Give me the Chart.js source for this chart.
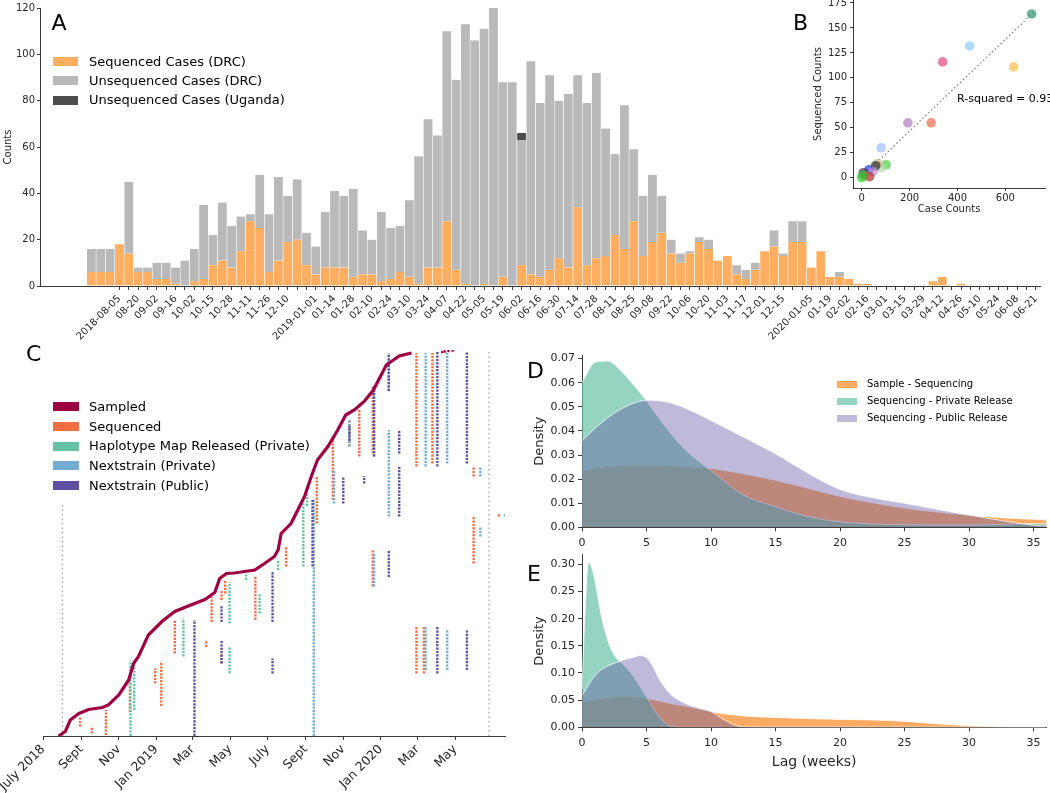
<!DOCTYPE html>
<html><head><meta charset="utf-8">
<script src="https://cdn.jsdelivr.net/npm/chart.js"></script>
<style>
html,body{margin:0;padding:0;background:#fff;}
body{width:1050px;height:793px;position:relative;overflow:hidden;font-family:"DejaVu Sans",sans-serif;color:#000;}
.cv{position:absolute;}
.t{position:absolute;white-space:nowrap;font-family:"DejaVu Sans",sans-serif;}
</style></head>
<body>
<canvas id="cA" class="cv" style="left:0;top:0" width="1050" height="345"></canvas>
<canvas id="cB" class="cv" style="left:800px;top:-10px" width="250" height="235"></canvas>
<canvas id="cC" class="cv" style="left:0;top:340px" width="540" height="453"></canvas>
<canvas id="cD" class="cv" style="left:520px;top:345px" width="530" height="215"></canvas>
<canvas id="cE" class="cv" style="left:520px;top:545px" width="530" height="248"></canvas>
<script>
// ================= DATA =================
// ---- Panel A: weekly cases (one category per epi-week) ----
const A_weeks = [
 '', '', '', '', '', '', '', '', '2018-08-05', '',
 '08-20', '', '09-02', '', '09-16', '', '10-02', '', '10-15', '',
 '10-28', '', '11-11', '', '11-26', '', '12-10', '', '', '2019-01-01',
 '', '01-14', '', '01-28', '', '02-10', '', '02-24', '', '03-10',
 '', '03-24', '', '04-07', '', '04-22', '', '05-05', '', '05-19',
 '', '06-02', '', '06-16', '', '06-30', '', '07-14', '', '07-28',
 '', '08-11', '', '08-25', '', '09-08', '', '09-22', '', '10-06',
 '', '10-20', '', '11-03', '', '11-17', '', '12-01', '', '12-15',
 '', '', '2020-01-05', '', '01-19', '', '02-02', '', '02-16', '',
 '03-01', '', '03-15', '', '03-29', '', '04-12', '', '04-26', '',
 '05-10', '', '05-24', '', '06-08', '', '06-21'];
const A_sequenced = [
 0,0,0,0,0,6,6,6,18,14,
 6,6,3,3,1,0,2,3,9,11,
 8,15,28,25,6,11,19,20,9,5,
 8,8,8,4,5,5,2,3,6,4,
 1,8,8,28,7,1,0,1,0,4,
 0,9,5,4,7,12,8,34,9,12,
 13,22,16,28,13,19,23,14,10,14,
 19,16,11,13,5,3,7,15,17,13,
 19,19,8,15,4,4,3,1,1,0,
 0,0,0,0,0,2,4,0,1,0,
 0,0,0,0,0,0,0];
const A_unsequencedDRC = [
 0,0,0,0,0,10,10,10,0,31,
 2,2,7,7,7,11,14,32,13,25,
 18,15,3,23,25,36,20,26,14,12,
 24,33,31,38,19,15,30,22,20,33,
 55,64,57,82,82,112,106,110,121,84,
 88,54,92,75,84,68,75,57,70,80,
 55,35,62,31,26,29,16,6,4,1,
 2,4,0,0,4,4,3,0,7,1,
 9,9,0,0,0,2,0,0,0,0,
 0,0,0,0,0,0,0,0,0,0,
 0,0,0,0,0,0,0];
const A_unsequencedUganda = A_weeks.map((_, i) => i === 51 ? 3 : 0);

// ---- Panel B: health zones ----
const B_caseCounts = [710, 451, 338, 635, 193, 290, 81, 102, 82, 65, 58, 30, 48, 33, 7, 15, 0, 5];
const B_sequencedCounts = [164, 132, 116, 111, 55, 55, 30, 13, 10, 14, 12, 8, 6, 1, 5, 2, 0, 3];
const B_zoneColors = ['#2f8f6f','#8ec9f5','#e0457f','#f5c04a','#a77dbb','#f2664a','#9dbaf5','#4ccc3c','#b5dba5',
  '#c9b08c','#2b2b2b','#1f3fdc','#c88fcf','#a0302d','#4b1f4f','#e25555','#22cc22','#3cb83c'];
const B_fitLine = [[0, 1], [720, 166]];
const B_xTicks = [0, 200, 400, 600];
const B_yTicks = [0, 25, 50, 75, 100, 125, 150, 175];
const B_rsquared = 'R-squared = 0.93';

// ---- Panel C: per-sample event timeline (date, sample rank) ----
const C_sampled = [
 ['2018-07-26',0],['2018-08-06',9],['2018-08-14',32],['2018-08-28',45],['2018-09-13',53],['2018-10-05',57],
 ['2018-10-15',62],['2018-11-01',82],['2018-11-17',112],['2018-11-25',145],['2018-12-03',159],['2018-12-19',202],
 ['2019-01-10',229],['2019-01-31',249],['2019-02-22',260],['2019-03-21',273],['2019-04-06',287],['2019-04-14',315],
 ['2019-04-25',325],['2019-05-08',326],['2019-06-10',332],['2019-06-26',345],['2019-07-12',359],['2019-07-18',372],
 ['2019-07-23',405],['2019-08-08',425],['2019-08-19',452],['2019-08-30',479],['2019-09-10',519],['2019-09-20',552],
 ['2019-10-07',579],['2019-10-23',612],['2019-11-05',642],['2019-11-19',652],['2019-12-05',669],['2019-12-20',692],
 ['2020-01-10',742],['2020-01-31',760],['2020-02-20',766]];
const C_sampledFlareUp = [['2020-04-10',768],['2020-04-14',769],['2020-04-20',770],['2020-04-27',771]];
// [date, lowest rank, highest rank] of each batch
const C_sequenced = [
 ['2018-08-30',19,39],['2018-09-18',5,19],['2018-10-11',2,52],['2018-11-19',48,109],['2018-12-30',105,135],
 ['2019-01-09',60,149],['2019-01-31',165,232],['2019-03-23',178,192],['2019-04-01',228,278],['2019-04-17',145,165],
 ['2019-04-17',272,292],['2019-04-23',285,312],['2019-06-11',232,318],['2019-07-31',339,379],['2019-09-19',425,519],
 ['2019-10-15',472,592],['2019-11-11',579,632],['2019-11-27',559,652],['2019-12-19',565,700],['2019-12-19',299,372],
 ['2020-02-28',539,766],['2020-02-28',125,218],['2020-03-11',125,218],['2020-03-25',545,766],['2020-05-31',519,539],
 ['2020-05-31',345,439],['2020-07-11',439,445]];
const C_haplotype = [
 ['2018-11-20',0,151],['2018-11-26',52,148],['2019-02-14',159,235],['2019-04-30',225,308],['2019-04-30',125,178],
 ['2019-05-27',312,325],['2019-06-18',245,285],['2019-07-18',332,352],['2019-08-28',339,465],['2019-09-03',460,485]];
const C_nextstrainPrivate = [
 ['2019-09-14',0,472],['2019-10-17',465,532],['2019-11-11',579,632],['2019-12-21',559,700],['2019-12-21',299,365],
 ['2020-01-14',439,612],['2020-01-14',690,760],['2020-03-14',539,766],['2020-03-14',132,218],['2020-04-18',545,766],
 ['2020-04-18',132,212],['2020-06-11',519,539],['2020-06-11',399,419],['2020-07-21',439,445]];
const C_nextstrainPublic = [
 ['2019-03-04',0,232],['2019-04-17',228,262],['2019-04-17',145,190],['2019-07-09',228,328],['2019-07-09',125,155],
 ['2019-09-12',339,472],['2019-11-01',465,519],['2019-11-11',590,620],['2019-12-05',505,520],['2019-12-21',559,700],
 ['2020-01-14',318,372],['2020-01-14',690,766],['2020-01-31',565,612],['2020-01-31',439,539],['2020-04-02',539,768],
 ['2020-04-02',125,218],['2020-05-20',545,768],['2020-05-20',132,212]];
const C_markerLines = [['2018-08-01',0,462],['2020-06-25',0,770]];
const C_tickDates = ['2018-07-01','2018-09-01','2018-11-01','2019-01-01','2019-03-01','2019-05-01',
  '2019-07-01','2019-09-01','2019-11-01','2020-01-01','2020-03-01','2020-05-01'];
const C_tickLabels = ['July 2018','Sept','Nov','Jan 2019','Mar','May','July','Sept','Nov','Jan 2020','Mar','May'];

// ---- Panel D / E: lag densities (weeks) ----
const D_lag = [0,1,2,3,4,5,6,7.5,9,10,12.5,15,17.5,20,22.5,25,27.5,30,32.5,35,36];
const D_sampleSeq  = [0.0233,0.0245,0.0252,0.0256,0.0258,0.0258,0.0257,0.0254,0.0249,0.0244,0.0222,0.0195,0.0162,0.0128,0.0102,0.0080,0.0063,0.0050,0.0040,0.0033,0.0031];
const D_seqPrivate = [0.0600,0.0685,0.0690,0.0650,0.0590,0.0525,0.0450,0.0350,0.0275,0.0235,0.0135,0.0085,0.0045,0.0023,0.0014,0.0011,0.0010,0.0010,0.0012,0.0015,0.0015];
const D_seqPublic  = [0.0360,0.0410,0.0455,0.0490,0.0515,0.0527,0.0525,0.0505,0.0470,0.0443,0.0375,0.0305,0.0225,0.0157,0.0123,0.0100,0.0075,0.0051,0.0028,0.0009,0.0006];
const E_lag = [0,0.25,0.5,0.75,1,1.5,2,2.5,3,3.5,4,4.5,5,5.5,6,6.5,7,8,9,10,11,12,13,15,17.5,20,22.5,25,27.5,30,32,34,36];
const E_sampleSeq  = [0.047,0.048,0.049,0.050,0.051,0.053,0.055,0.056,0.0565,0.0565,0.056,0.055,0.053,0.051,0.048,0.046,0.043,0.039,0.034,0.029,0.025,0.022,0.020,0.018,0.016,0.0145,0.0135,0.011,0.0065,0.003,0.0012,0.0003,0];
const E_seqPrivate = [0.070,0.220,0.303,0.295,0.270,0.205,0.160,0.133,0.120,0.108,0.093,0.075,0.056,0.036,0.019,0.007,0.001,0,0,0,0,0,0,0,0,0,0,0,0,0,0,0,0];
const E_seqPublic  = [0.059,0.068,0.078,0.087,0.095,0.106,0.113,0.118,0.122,0.126,0.129,0.132,0.128,0.112,0.088,0.071,0.058,0.044,0.036,0.029,0.014,0.003,0.0005,0,0,0,0,0,0,0,0,0,0];
const DE_labels = ['Sample - Sequencing','Sequencing - Private Release','Sequencing - Public Release'];

// ================= HELPERS =================
Chart.defaults.font.family = '"DejaVu Sans", sans-serif';
Chart.defaults.color = '#262626';
Chart.defaults.animation = false;
Chart.defaults.plugins.legend.display = false;
Chart.defaults.plugins.tooltip.enabled = false;
const AX = '#3a3a3a';
const fixW = w => s => { s.width = w; };
const fixH = h => s => { s.height = h; };
const setTicks = vals => s => { s.ticks = vals.map(v => ({ value: v })); };
const day0 = Date.UTC(2018, 6, 1);
const days = s => (Date.UTC(+s.slice(0,4), +s.slice(5,7)-1, +s.slice(8,10)) - day0) / 864e5;
const segs = list => list.flatMap(([d,a,b]) => [{x:days(d),y:a},{x:days(d),y:b},{x:days(d),y:null}]);
const pts = (xs, ys) => xs.map((x,i) => ({x, y: ys[i]}));

function text(str, left, top, size, extra) {
  const d = document.createElement('div');
  d.className = 't';
  d.textContent = str;
  d.style.cssText += `left:${left}px;top:${top}px;font-size:${size}px;line-height:${size}px;` + (extra||'');
  document.body.appendChild(d);
  return d;
}
function legend(items, patchLeft, firstCy, rowH, pw, ph, textLeft, fs) {
  items.forEach((it, i) => {
    const cy = firstCy + i * rowH;
    const p = document.createElement('div');
    p.style.cssText = `position:absolute;left:${patchLeft}px;top:${cy-ph/2}px;width:${pw}px;height:${ph}px;background:${it.color};`;
    document.body.appendChild(p);
    text(it.label, textLeft, cy - fs*0.52, fs);
  });
}

// ================= PANEL A =================
const chartA = new Chart(document.getElementById('cA'), {
  type: 'bar',
  data: { labels: A_weeks, datasets: [
    { label: 'Sequenced Cases (DRC)', data: A_sequenced, backgroundColor: '#fdae61' },
    { label: 'Unsequenced Cases (DRC)', data: A_unsequencedDRC, backgroundColor: '#b9b9b9' },
    { label: 'Unsequenced Cases (Uganda)', data: A_unsequencedUganda, backgroundColor: '#4d4d4d' }
  ]},
  options: {
    responsive: false,
    layout: { padding: { left: 0, right: 9.5, top: 4, bottom: 0 } },
    datasets: { bar: { categoryPercentage: 1, barPercentage: 1, borderColor: '#ffffff',
      borderWidth: { left: 0.6, right: 0.6, top: 0, bottom: 0 }, borderSkipped: false } },
    scales: {
      x: { stacked: true, afterFit: fixH(59),
        grid: { offset: false, drawOnChartArea: false, tickLength: 4,
                tickColor: ctx => (ctx.index >= 8 ? AX : 'rgba(0,0,0,0)') },
        border: { color: AX },
        ticks: { autoSkip: false, maxRotation: 45, minRotation: 45, font: { size: 10 }, padding: 3 } },
      y: { stacked: true, min: 0, max: 120, afterFit: fixW(40),
        ticks: { stepSize: 20, font: { size: 10 }, padding: 2 },
        grid: { drawOnChartArea: false, tickLength: 3, color: AX },
        border: { color: AX },
        title: { display: true, text: 'Counts', font: { size: 10 }, padding: { top: 2, bottom: 0 } } }
    }
  }
});
legend(chartA.data.datasets.map(d => ({label: d.label, color: d.backgroundColor})), 53, 61.7, 19.2, 25, 9, 89, 13);

// ================= PANEL B =================
new Chart(document.getElementById('cB'), {
  type: 'scatter',
  data: { datasets: [
    { data: pts(B_caseCounts, B_sequencedCounts), backgroundColor: B_zoneColors.map(c => c + 'b0'),
      borderWidth: 0, pointRadius: 4.8, order: 1 },
    { data: B_fitLine.map(([x,y]) => ({x,y})), showLine: true, pointRadius: 0, borderColor: '#7a7a7a',
      borderWidth: 1.2, borderDash: [1.5, 2.5], order: 2 }
  ]},
  options: {
    responsive: false,
    layout: { padding: { left: 0, right: 3, top: 10, bottom: 0 } },
    scales: {
      x: { type: 'linear', min: -36.5, max: 766.5, afterFit: fixH(37), afterBuildTicks: setTicks(B_xTicks),
        ticks: { font: { size: 10 }, padding: 1 },
        grid: { drawOnChartArea: false, tickLength: 3, color: AX }, border: { color: AX },
        title: { display: true, text: 'Case Counts', font: { size: 10 }, padding: { top: 0, bottom: 9.7 } } },
      y: { type: 'linear', min: -10.3, max: 178, afterFit: fixW(53), afterBuildTicks: setTicks(B_yTicks),
        ticks: { font: { size: 10 }, padding: 3 },
        grid: { drawOnChartArea: false, tickLength: 3, color: AX }, border: { color: AX },
        title: { display: true, text: 'Sequenced Counts', font: { size: 10 }, padding: { top: 12, bottom: 0 } } }
    }
  }
});
text(B_rsquared, 957, 93, 11);

// ================= PANEL C =================
const C_series = [
  { label: 'Sampled', color: '#9e0142' },
  { label: 'Sequenced', color: '#f46d43' },
  { label: 'Haplotype Map Released (Private)', color: '#66c2a5' },
  { label: 'Nextstrain (Private)', color: '#74add1' },
  { label: 'Nextstrain (Public)', color: '#5e4fa2' }
];
const colLine = (list, color, order) => ({ data: segs(list), showLine: true, spanGaps: false, pointRadius: 0,
  borderColor: color, borderWidth: 2.4, borderDash: [2.2, 1.2], order });
new Chart(document.getElementById('cC'), {
  type: 'scatter',
  data: { datasets: [
    { data: C_sampled.map(([d,r]) => ({x: days(d), y: r})), showLine: true, pointRadius: 0,
      borderColor: C_series[0].color, borderWidth: 3.2, order: 0 },
    { data: C_sampledFlareUp.map(([d,r]) => ({x: days(d), y: r})), pointRadius: 1.6, pointStyle: 'rect',
      backgroundColor: C_series[0].color, borderWidth: 0, order: 0 },
    colLine(C_sequenced, C_series[1].color, 4),
    colLine(C_haplotype, C_series[2].color, 3),
    colLine(C_nextstrainPrivate, C_series[3].color, 2),
    colLine(C_nextstrainPublic, C_series[4].color, 1),
    { data: segs(C_markerLines), showLine: true, spanGaps: false, pointRadius: 0, borderColor: '#888',
      borderWidth: 1, borderDash: [1.5, 3], order: 5 }
  ]},
  options: {
    responsive: false,
    layout: { padding: { left: 41, right: 35, top: 10, bottom: 0 } },
    scales: {
      x: { type: 'linear', min: 0, max: days('2020-07-21'), afterFit: fixH(57),
        afterBuildTicks: setTicks(C_tickDates.map(days)),
        ticks: { autoSkip: false, maxRotation: 45, minRotation: 45, font: { size: 12.5 }, padding: 2,
          callback: (v, i) => C_tickLabels[i] },
        grid: { drawOnChartArea: false, tickLength: 4, color: AX }, border: { color: AX } },
      y: { type: 'linear', display: false, min: 0, max: 772 }
    }
  }
});
legend(C_series, 53, 406.7, 19.65, 26, 9, 89, 13);

// ================= PANEL D / E =================
const kdeColors = ['rgba(253,150,60,0.8)', 'rgba(102,194,165,0.7)', 'rgba(94,79,162,0.4)'];
function kde(id, xs, series, ymax, step, canvasTop, xTitle) {
  return new Chart(document.getElementById(id), {
    type: 'line',
    data: { datasets: series.map((ys, k) => ({
      label: DE_labels[k], data: pts(xs, ys), fill: 'origin', backgroundColor: kdeColors[k],
      borderColor: 'rgba(255,255,255,0.75)', borderWidth: 1, pointRadius: 0,
      cubicInterpolationMode: 'monotone', order: 3 - k })) },
    options: {
      responsive: false,
      layout: { padding: { left: 0, right: 3.6, top: canvasTop, bottom: 0 } },
      scales: {
        x: { type: 'linear', min: 0, max: 36, afterFit: fixH(xTitle ? 65.7 : 32.7),
          ticks: { stepSize: 5, includeBounds: false, font: { size: 11 }, padding: 5 },
          grid: { drawOnChartArea: false, tickLength: 4, color: AX }, border: { color: AX },
          title: { display: !!xTitle, text: xTitle || '', font: { size: 14 }, padding: { top: 0, bottom: 21.9 } } },
        y: { type: 'linear', min: 0, max: ymax, afterFit: fixW(62),
          ticks: { stepSize: step, includeBounds: false, font: { size: 11 }, padding: 3, callback: v => v.toFixed(2) },
          grid: { drawOnChartArea: false, tickLength: 4, color: AX }, border: { color: AX },
          title: { display: true, text: 'Density', font: { size: 13 }, padding: { top: 12, bottom: 0 } } }
      }
    }
  });
}
kde('cD', D_lag, [D_sampleSeq, D_seqPrivate, D_seqPublic], 0.0715, 0.01, 10, null);
kde('cE', E_lag, [E_sampleSeq, E_seqPrivate, E_seqPublic], 0.318, 0.05, 8, 'Lag (weeks)');
legend(DE_labels.map((l, k) => ({ label: l, color: kdeColors[k] })), 837, 384, 17, 20, 7, 867, 10);

// ================= PANEL LETTERS =================
text('A', 51.5, 12.4, 22);
text('B', 793, 12.4, 22);
text('C', 26, 343, 22);
text('D', 527, 360, 22);
text('E', 527, 563, 22);
</script>
</body></html>
